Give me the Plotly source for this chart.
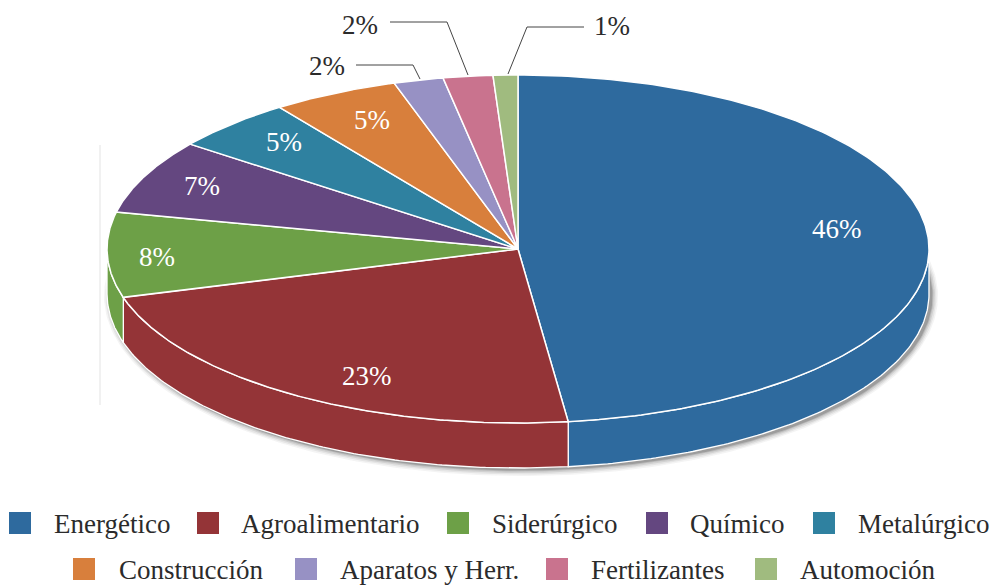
import numpy as np
import plotly.graph_objects as go

categories = ["Energético", "Agroalimentario", "Siderúrgico", "Químico", "Metalúrgico",
              "Construcción", "Aparatos y Herr.", "Fertilizantes", "Automoción"]
slice_values = [48.05, 22.45, 7.9, 6.9, 4.85, 4.98, 1.95, 1.95, 0.97]
pct_labels = ["46%", "23%", "8%", "7%", "5%", "5%", "2%", "2%", "1%"]
colors = ["#2E6A9E", "#943437", "#6DA047", "#644780", "#2F81A0",
          "#D87F3C", "#9791C4", "#C9738E", "#A0BB7F"]

CX, CY, RX, RY, DEPTH = 518.0, 249.0, 411.0, 174.0, 45.0
FONT = "Liberation Serif"
INK = "#2b2b2b"


def ell(t, dy=0.0, dx=0.0, grow=0.0):
    return (CX + dx + (RX + grow) * np.sin(t), CY + dy - (RY + grow) * np.cos(t))


fig = go.Figure()
shares = np.array(slice_values) / sum(slice_values) * 2 * np.pi
edges = np.concatenate([[0], np.cumsum(shares)])

# faint scan edge on the left
fig.add_trace(go.Scatter(x=[100, 100], y=[145, 405], mode="lines",
                         line=dict(color="#ececec", width=1.5), hoverinfo="skip"))

# soft drop shadow
T = np.linspace(0, 2 * np.pi, 361)
for grow, alpha in [(6, 0.05), (4.5, 0.07), (3, 0.10), (1.5, 0.14), (0.5, 0.2)]:
    sx, sy = ell(T, dx=3, dy=DEPTH + 2, grow=grow)
    fig.add_trace(go.Scatter(x=sx, y=sy, mode="lines", fill="toself", line=dict(width=0),
                             fillcolor=f"rgba(40,40,40,{alpha})", hoverinfo="skip"))

# side walls
for a, b, c in zip(edges[:-1], edges[1:], colors):
    lo, hi = max(a, np.pi / 2), min(b, 3 * np.pi / 2)
    if hi <= lo:
        continue
    t = np.linspace(lo, hi, 120)
    x1, y1 = ell(t)
    x2, y2 = ell(t[::-1], dy=DEPTH)
    fig.add_trace(go.Scatter(x=np.r_[x1, x2, x1[0]], y=np.r_[y1, y2, y1[0]], mode="lines",
                             fill="toself", fillcolor=c, line=dict(color="white", width=1.3),
                             hoverinfo="skip"))

# top faces
for name, a, b, c in zip(categories, edges[:-1], edges[1:], colors):
    t = np.linspace(a, b, 200)
    x, y = ell(t)
    fig.add_trace(go.Scatter(x=np.r_[CX, x, CX], y=np.r_[CY, y, CY], mode="lines", name=name,
                             fill="toself", fillcolor=c, line=dict(color="white", width=1.5),
                             hoverinfo="name"))

# leader lines
for lx, ly in [([390, 447, 468], [22, 22, 75]),
               ([356, 413, 420], [65, 65, 79]),
               ([584, 527, 508], [27, 27, 74])]:
    fig.add_trace(go.Scatter(x=lx, y=ly, mode="lines", line=dict(color="#444444", width=1),
                             hoverinfo="skip"))

# percent labels
label_pos = [(837, 229), (367, 376), (157, 257), (202, 186), (284, 142),
             (372, 120), (360, 25), (327, 66), (612, 26)]
anns = []
for i, (txt, (px, py)) in enumerate(zip(pct_labels, label_pos)):
    anns.append(dict(x=px, y=py, text=txt, showarrow=False, xanchor="center", yanchor="middle",
                     font=dict(family=FONT, size=27, color="white" if i < 6 else INK)))

# legend
swatch_pos = [(20, 523), (208, 523), (458, 523), (657, 523), (824, 523),
              (84, 569), (306, 569), (557, 569), (766, 569)]
text_x = [52, 239, 490, 688, 856, 117, 338, 589, 798]
for name, c, (sx, sy), tx in zip(categories, colors, swatch_pos, text_x):
    fig.add_trace(go.Scatter(x=[sx], y=[sy], mode="markers", hoverinfo="skip",
                             marker=dict(symbol="square", size=22, color=c, line=dict(width=0))))
    anns.append(dict(x=tx, y=sy + 1, text=name, showarrow=False, xanchor="left", yanchor="middle",
                     font=dict(family=FONT, size=27, color=INK)))

fig.update_layout(width=995, height=586, margin=dict(l=0, r=0, t=0, b=0), showlegend=False,
                  paper_bgcolor="white", plot_bgcolor="white", annotations=anns,
                  xaxis=dict(range=[0, 995], visible=False, fixedrange=True),
                  yaxis=dict(range=[586, 0], visible=False, fixedrange=True))
fig.write_html("out.html", config={"displayModeBar": False},
               post_script="document.body.style.margin='0';")
